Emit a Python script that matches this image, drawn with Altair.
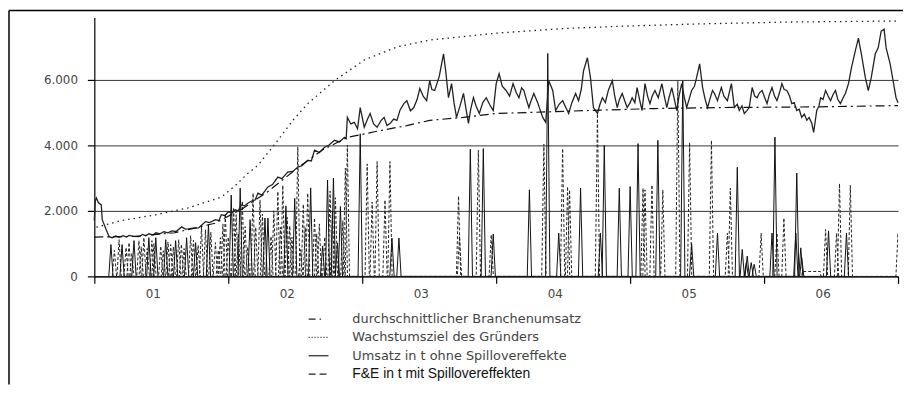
import json
import altair as alt
import pandas as pd

# ---------------- data ----------------
YEAR_LABELS = ["01", "02", "03", "04", "05", "06"]
Y_TICKS = [0, 2000, 4000, 6000]
LEGEND_LABELS = [
    "durchschnittlicher Branchenumsatz",
    "Wachstumsziel des Gründers",
    "Umsatz in t ohne Spillovereffekte",
    "F&E in t mit Spillovereffekten",
]

# Umsatz in t ohne Spillovereffekte (solid)
rev_t = [0.000, 0.007, 0.015, 0.030, 0.052, 0.059, 0.089, 0.111, 0.133, 0.160, 0.185, 0.215, 0.240, 0.259, 0.290,
         0.333, 0.360, 0.385, 0.407, 0.440, 0.459, 0.490, 0.519, 0.550, 0.578, 0.610, 0.652, 0.680, 0.704, 0.740,
         0.778, 0.800, 0.830, 0.860, 0.904, 0.930, 0.948, 0.975, 1.000, 1.030, 1.052, 1.075, 1.096, 1.120, 1.148,
         1.175, 1.200, 1.222, 1.250, 1.296, 1.330, 1.370, 1.400, 1.444, 1.480, 1.519, 1.550, 1.593, 1.620, 1.644,
         1.680, 1.719, 1.750, 1.793, 1.830, 1.867, 1.880, 1.889, 1.915, 1.941, 1.965, 1.985, 2.015, 2.040, 2.059,
         2.085, 2.111, 2.140, 2.163, 2.185, 2.207, 2.235, 2.259, 2.281, 2.311, 2.333, 2.360, 2.385, 2.410, 2.430,
         2.455, 2.481, 2.504, 2.520, 2.541, 2.575, 2.607, 2.625, 2.644, 2.667, 2.685, 2.704, 2.730, 2.756, 2.775,
         2.793, 2.810, 2.830, 2.850, 2.874, 2.900, 2.926, 2.950, 2.978, 3.000, 3.022, 3.045, 3.074, 3.100, 3.126,
         3.150, 3.170, 3.190, 3.207, 3.225, 3.244, 3.260, 3.281, 3.310, 3.330, 3.348, 3.370, 3.393, 3.422, 3.444,
         3.470, 3.496, 3.520, 3.541, 3.565, 3.593, 3.615, 3.635, 3.652, 3.681, 3.704, 3.726, 3.756, 3.775, 3.793,
         3.815, 3.837, 3.867, 3.885, 3.904, 3.920, 3.941, 3.960, 3.978, 4.000, 4.015, 4.035, 4.052, 4.070, 4.089,
         4.111, 4.130, 4.148, 4.165, 4.185, 4.210, 4.237, 4.255, 4.274, 4.290, 4.311, 4.330, 4.348, 4.365, 4.385,
         4.405, 4.422, 4.440, 4.459, 4.480, 4.496, 4.519, 4.541, 4.560, 4.578, 4.595, 4.615, 4.630, 4.652, 4.681,
         4.700, 4.726, 4.756, 4.778, 4.800, 4.815, 4.835, 4.852, 4.870, 4.889, 4.911, 4.930, 4.948, 4.965, 4.985,
         5.005, 5.022, 5.040, 5.059, 5.078, 5.096, 5.115, 5.133, 5.150, 5.170, 5.190, 5.207, 5.225, 5.244, 5.262,
         5.281, 5.300, 5.319, 5.336, 5.356, 5.370, 5.393, 5.410, 5.422, 5.440, 5.459, 5.478, 5.496, 5.515, 5.533,
         5.550, 5.570, 5.590, 5.607, 5.630, 5.652, 5.681, 5.704, 5.726, 5.756, 5.778, 5.800, 5.830, 5.852, 5.874,
         5.896, 5.911, 5.941, 5.963, 5.985, 6.000]
rev_v = [1700, 2300, 2390, 2250, 2180, 1730, 1420, 1210, 1180, 1230, 1190, 1240, 1200, 1250, 1220,
         1210, 1280, 1240, 1300, 1260, 1330, 1300, 1360, 1330, 1390, 1370, 1510, 1440, 1450, 1470,
         1480, 1560, 1670, 1640, 1730, 1700, 1880, 1850, 1970, 1940, 2030, 2000, 2180, 2150, 2240,
         2300, 2330, 2540, 2480, 2730, 2800, 3030, 2980, 3180, 3200, 3330, 3380, 3540, 3520, 3850,
         3780, 3940, 4000, 4150, 4100, 4240, 4200, 4850, 4650, 4700, 4500, 5150, 4550, 4800, 4970,
         4650, 4550, 4750, 4850, 4600, 4660, 4800, 4760, 5060, 5270, 5360, 5050, 5150, 5400, 5730,
         5500, 5360, 5970, 5700, 5670, 6100, 6790, 6200, 5450, 5880, 5300, 4850, 5200, 5580, 5100,
         4670, 5100, 5450, 5200, 4970, 5300, 5450, 5250, 5060, 5880, 6180, 5800, 5670, 5500, 5880,
         5600, 5450, 5750, 5670, 5400, 5150, 5350, 5580, 5300, 5050, 4850, 4700, 5970, 5670, 5060,
         5250, 5360, 5150, 4970, 5300, 5580, 5360, 5700, 6270, 6670, 6060, 5150, 4970, 5250, 5450,
         5300, 5670, 5970, 5500, 5150, 5400, 5580, 5350, 5150, 5300, 5450, 5300, 5760, 5400, 5060,
         5880, 5500, 5270, 5500, 5670, 5450, 5880, 5500, 5150, 5450, 5760, 5400, 5060, 5500, 5880,
         5450, 5150, 5400, 5670, 5800, 6060, 6480, 5760, 5400, 5150, 5400, 5670, 5580, 5360, 5760,
         5500, 5360, 5880, 5150, 5250, 5060, 5200, 4970, 5050, 5150, 5760, 5500, 5450, 5600, 5670,
         5450, 5270, 5550, 5760, 5500, 5360, 5600, 5880, 5700, 5670, 5500, 5270, 5300, 5060, 5100,
         4850, 4950, 4760, 4850, 4670, 4390, 5060, 5200, 5450, 5400, 5670, 5500, 5360, 5550, 5670,
         5400, 5270, 5450, 5580, 5880, 6360, 6880, 7270, 6790, 6060, 5670, 6060, 6790, 6970, 7480,
         7540, 6970, 6480, 5970, 5450, 5300]

# durchschnittlicher Branchenumsatz (dash-dot)
avg_t = [0.000, 0.300, 0.600, 0.900, 1.100, 1.300, 1.500, 1.700, 1.889, 1.963, 2.100, 2.333, 2.504, 2.756,
         3.000, 3.244, 3.689, 4.185, 4.681, 5.370, 6.000]
avg_v = [1200, 1220, 1330, 1620, 2050, 2600, 3250, 3850, 4240, 4300, 4420, 4600, 4760, 4850,
         4970, 5000, 5060, 5120, 5150, 5170, 5210]

# Wachstumsziel des Gründers (dotted)
goal_t = [0.015, 0.200, 0.460, 0.700, 0.950, 1.050, 1.148, 1.222, 1.370, 1.480, 1.593, 1.793, 2.015, 2.260,
          2.504, 3.000, 3.500, 4.000, 4.500, 5.200, 6.000]
goal_v = [1500, 1700, 1880, 2090, 2420, 2760, 3150, 3390, 4150, 4750, 5270, 5970, 6600, 7000,
          7210, 7420, 7560, 7640, 7700, 7760, 7790]

# F&E in t mit Spillovereffekten: spike peaks drawn dashed
fe_dash_t = [0.150, 0.185, 0.237, 0.259, 0.280, 0.333, 0.350, 0.370, 0.395, 0.430, 0.445, 0.496, 0.515, 0.550,
             0.570, 0.590, 0.630, 0.650, 0.670, 0.719, 0.740, 0.775, 0.800, 0.830, 0.870, 0.904, 0.925, 0.941,
             0.960, 0.978, 1.000, 1.040, 1.059, 1.075, 1.105, 1.126, 1.145, 1.185, 1.205, 1.237, 1.255, 1.319,
             1.340, 1.370, 1.390, 1.407, 1.440, 1.459, 1.475, 1.519, 1.541, 1.560, 1.575, 1.593, 1.644, 1.660,
             1.680, 1.720, 1.760, 1.778, 1.800, 1.855, 1.874, 1.889, 2.037, 2.074, 2.111, 2.170, 2.207, 2.719,
             2.726, 2.867, 2.963, 3.356, 3.496, 3.533, 3.548, 3.756, 4.096, 4.111, 4.163, 4.244, 4.356, 4.444,
             4.607, 4.726, 4.748, 4.978, 5.096, 5.148, 5.459, 5.541, 5.563, 5.644, 6.000]
fe_dash_v = [800, 1120, 880, 1030, 700, 1090, 900, 1180, 850, 1090, 1000, 920, 780, 1050,
             970, 900, 1120, 980, 850, 1240, 1100, 950, 1520, 1420, 1350, 1030, 800, 1180,
             1600, 1930, 1200, 2100, 1880, 1300, 2300, 1520, 900, 2540, 1500, 2330, 1900, 1220,
             2000, 2590, 1500, 2780, 1800, 1540, 1200, 3950, 820, 2200, 1500, 2540, 1780, 1300,
             1600, 1200, 2600, 2000, 2400, 1700, 3300, 4000, 3430, 2270, 3500, 2330, 3500, 2450,
             1220, 3850, 1270, 4030, 3900, 2740, 2640, 4960, 2690, 2640, 2790, 2640, 5970, 4080,
             4150, 1320, 2690, 1320, 1320, 1780, 1430, 1320, 2830, 2780, 1320]
# flat stretch of the dashed series: start, end, level
fe_dash_flat = [(5.285, 5.420, 150)]

# spikes of the F&E curves that appear as solid strokes
fe_solid_t = [0.124, 0.207, 0.296, 0.407, 0.459, 0.533, 0.607, 0.689, 0.756, 0.852, 1.022, 1.089, 1.163, 1.274,
              1.296, 1.430, 1.496, 1.615, 1.704, 1.741, 1.785, 1.815, 1.837, 1.985, 2.222, 2.274, 2.807, 2.904,
              2.978, 3.248, 3.385, 3.467, 3.630, 3.778, 3.807, 3.919, 4.000, 4.059, 4.207, 4.393, 4.459, 4.652,
              4.800, 4.837, 4.867, 4.874, 4.904, 4.926, 5.059, 5.081, 5.237, 5.244, 5.274, 5.281, 5.481, 5.615]
fe_solid_v = [970, 970, 1090, 1180, 1180, 1120, 1090, 1180, 1030, 1580, 2480, 2690, 1730, 1780,
              1780, 2150, 2380, 2700, 930, 2940, 3000, 1020, 2130, 4350, 1170, 1170, 3880, 3900,
              1290, 2640, 6800, 1320, 2690, 1320, 4000, 2690, 2740, 4050, 4150, 5970, 1000, 1320,
              3330, 820, 420, 620, 420, 370, 1320, 4250, 1320, 3150, 870, 570, 1390, 1320]

# ---------------- build tables ----------------
HW = 0.016  # half duration of one F&E burst (years)


def spike_table(ts, vs, flats=()):
    segs = []
    for t, v in zip(ts, vs):
        segs.append((t, [(t - HW, 0), (t, v), (t + HW, 0)]))
    for a, b, v in flats:
        segs.append((a, [(a - 0.004, 0), (a, v), (b, v), (b + 0.004, 0)]))
    segs.sort(key=lambda s: s[0])
    rows = []
    for _, pts in segs:
        for t, v in pts:
            rows.append({"t": t, "v": v, "o": len(rows)})
    return pd.DataFrame(rows)


rev_df = pd.DataFrame({"t": rev_t, "v": rev_v})
avg_df = pd.DataFrame({"t": avg_t, "v": avg_v})
goal_df = pd.DataFrame({"t": goal_t, "v": goal_v})
dash_df = spike_table(fe_dash_t, fe_dash_v, fe_dash_flat)
solid_df = spike_table(fe_solid_t, fe_solid_v)

FONT = "DejaVu Sans"
x_enc = alt.X(
    "t:Q",
    scale=alt.Scale(domain=[0, 6], nice=False, zero=False),
    axis=alt.Axis(
        values=list(range(7)),
        labelExpr=json.dumps(YEAR_LABELS) + "[datum.value] || ''",
        labelOffset=59, tickSize=7, labelPadding=5, grid=False, title=None,
        labelFont=FONT, labelFontSize=12, labelColor="#444",
        domainColor="#000", tickColor="#000", domainWidth=1.2, tickWidth=1.2,
        labelFlush=False, labelOverlap=False, labelBound=False,
    ),
)
y_enc = alt.Y(
    "v:Q",
    scale=alt.Scale(domain=[0, 7900], nice=False),
    axis=alt.Axis(
        values=Y_TICKS,
        labelExpr="replace(format(datum.value, ','), ',', '.')",
        tickSize=7, labelPadding=10, grid=True, gridColor="#333", gridWidth=1, title=None,
        labelFont=FONT, labelFontSize=12, labelColor="#444",
        domainColor="#000", tickColor="#000", domainWidth=1.2, tickWidth=1.2,
    ),
)

dash_layer = alt.Chart(dash_df).mark_line(
    color="#222", strokeWidth=1, strokeDash=[3, 2], clip=True
).encode(x=x_enc, y=y_enc, order="o:Q")
solid_layer = alt.Chart(solid_df).mark_line(
    color="#111", strokeWidth=1, clip=True
).encode(x=x_enc, y=y_enc, order="o:Q")
rev_layer = alt.Chart(rev_df).mark_line(color="#222", strokeWidth=1.3).encode(x=x_enc, y=y_enc)
avg_layer = alt.Chart(avg_df).mark_line(
    color="#111", strokeWidth=1.2, strokeDash=[9, 4, 2, 4]
).encode(x=x_enc, y=y_enc)
goal_layer = alt.Chart(goal_df).mark_line(
    color="#222", strokeWidth=1.3, strokeDash=[1.5, 4]
).encode(x=x_enc, y=y_enc)

one = pd.DataFrame({"k": [0]})

# outer frame (top and left edge)
frame_top = alt.Chart(one).mark_rule(color="#000", strokeWidth=1.5).encode(
    x=alt.value(-86), x2=alt.value(816), y=alt.value(-7))
frame_left = alt.Chart(one).mark_rule(color="#000", strokeWidth=1.5).encode(
    x=alt.value(-86), y=alt.value(-7), y2=alt.value(370))

# hand-laid legend below the plot
LEG_Y0, LEG_DY = 304, 18.5
SYMBOL_DASH = [[7, 4, 1.5, 10], [1, 2], [], [7, 4]]
legend_layers = []
for i, label in enumerate(LEGEND_LABELS):
    yv = LEG_Y0 + LEG_DY * i
    rule_kw = {"color": "#222", "strokeWidth": 1.2}
    if SYMBOL_DASH[i]:
        rule_kw["strokeDash"] = SYMBOL_DASH[i]
    legend_layers.append(
        alt.Chart(one).mark_rule(**rule_kw).encode(x=alt.value(216), x2=alt.value(236), y=alt.value(yv))
    )
    last = i == len(LEGEND_LABELS) - 1
    legend_layers.append(
        alt.Chart(pd.DataFrame({"label": [label]})).mark_text(
            align="left", baseline="middle",
            font="Liberation Sans" if last else FONT,
            fontSize=14 if last else 13,
            color="#111" if last else "#444",
        ).encode(x=alt.value(260), y=alt.value(yv), text="label:N")
    )

chart = alt.layer(
    dash_layer, solid_layer, rev_layer, avg_layer, goal_layer,
    frame_top, frame_left, *legend_layers,
).properties(
    width=810, height=261,
    autosize=alt.AutoSizeParams(type="none"),
    padding={"left": 87, "top": 8, "right": 5, "bottom": 109},
).configure_view(stroke=None)

chart.save("out.html", embed_options={"renderer": "svg", "actions": False})
